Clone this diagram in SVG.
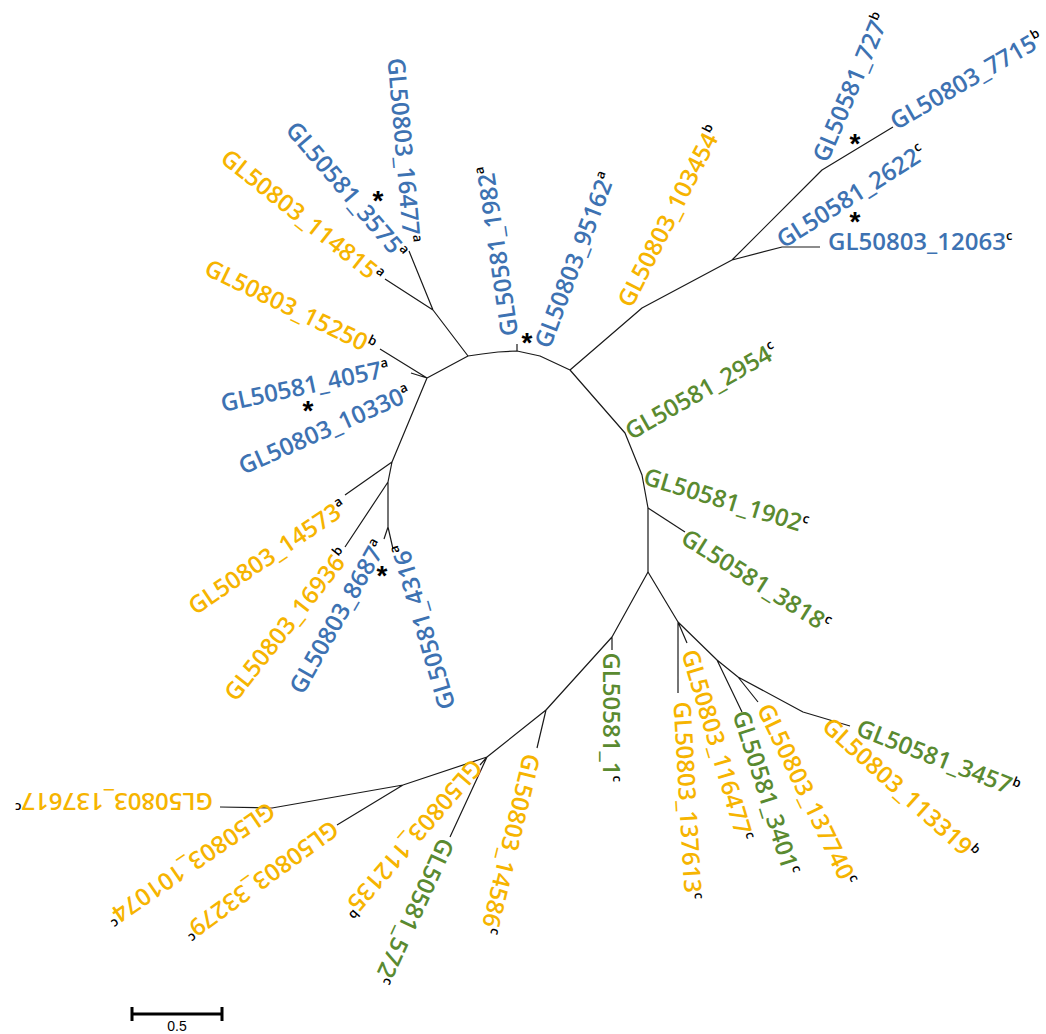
<svg xmlns="http://www.w3.org/2000/svg" width="1046" height="1034" viewBox="0 0 1046 1034">
<style>
.lb{font-family:"Open Sans","Liberation Sans",Arial,sans-serif;font-size:24px;font-weight:600}
.bl{fill:#3d72b2}
.or{fill:#f6b400}
.gr{fill:#5a8a30}
.sp{font-size:13px;fill:#000}
.ast{font-family:"Liberation Sans",Arial,sans-serif;font-size:28px;font-weight:bold;fill:#000;text-anchor:middle}
.tree{fill:none;stroke:#1a1a1a;stroke-width:1.2;stroke-linejoin:round}
.bar{fill:none;stroke:#000;stroke-width:3}
</style>
<rect width="1046" height="1034" fill="#fff"/>
<g id="connectors" class="tree">
<path d="M392,462 L427,378 L468,356 L482,354 L498,352 L517,351 L540,356 L570,370 L625,433 L642,475 L648,508 L648,572"/>
<path d="M517,351 V344"/>
<path d="M468,356 L433,310 L385,279 M433,310 L409,251"/>
<path d="M427,378 L380,349 M427,378 L411,373"/>
<path d="M392,462 L345,495 M392,462 L388,482 L345,547 M388,482 L388,527 L384,539 M388,527 L393,549"/>
<path d="M570,370 L642,308 L732,260 L822,170 L893,127 M732,260 L782,247 L820,247"/>
<path d="M648,508 L685,532"/>
<path d="M648,572 L612,637 L612,650 M612,637 L546,710 L537,748 M546,710 L487,757 L450,837 M487,757 L403,785 L337,825 M403,785 L272,808 L220,807 M487,757 L480,765"/>
<path d="M648,572 L678,622 L678,693 M678,622 L687,643 M678,622 L717,660 L742,712 M717,660 L738,677 L758,702 M738,677 L803,712 L850,726"/>
</g>
<g id="n16477"><text class="lb bl" transform="translate(396,58) rotate(85)" y="8.6">GL50803_16477<tspan class="sp" dy="-10">a</tspan></text></g>
<g id="n3575"><text class="lb bl" transform="translate(291,125) rotate(49.5)" y="8.6">GL50581_3575<tspan class="sp" dy="-10">a</tspan></text></g>
<g id="n114815"><text class="lb or" transform="translate(224.4,154.2) rotate(38.5)" y="8.6">GL50803_114815<tspan class="sp" dy="-10">a</tspan></text></g>
<g id="n15250"><text class="lb or" transform="translate(206.6,265.9) rotate(26)" y="8.6">GL50803_15250<tspan class="sp" dy="-10">b</tspan></text></g>
<g id="n4057"><text class="lb bl" transform="translate(220.9,403.6) rotate(-12)" y="8.6">GL50581_4057<tspan class="sp" dy="-10">a</tspan></text></g>
<g id="n10330"><text class="lb bl" transform="translate(239.8,467.1) rotate(-24)" y="8.6">GL50803_10330<tspan class="sp" dy="-10">a</tspan></text></g>
<g id="n14573"><text class="lb or" transform="translate(190.6,608.5) rotate(-34)" y="8.6">GL50803_14573<tspan class="sp" dy="-10">a</tspan></text></g>
<g id="n16936"><text class="lb or" transform="translate(229.2,697.3) rotate(-51.7)" y="8.6">GL50803_16936<tspan class="sp" dy="-10">b</tspan></text></g>
<g id="n8687"><text class="lb bl" transform="translate(295.4,691.4) rotate(-60.6)" y="8.6">GL50803_8687<tspan class="sp" dy="-10">a</tspan></text></g>
<g id="n4316"><text class="lb bl" transform="translate(447.6,708.9) rotate(-106.5)" y="8.6">GL50581_4316<tspan class="sp" dy="-10">a</tspan></text></g>
<g id="n1982"><text class="lb bl" transform="translate(509.7,335.9) rotate(-98.4)" y="8.6">GL50581_1982<tspan class="sp" dy="-10">a</tspan></text></g>
<g id="n95162"><text class="lb bl" transform="translate(541.7,346.7) rotate(-69.3)" y="8.6">GL50803_95162<tspan class="sp" dy="-10">a</tspan></text></g>
<g id="n103454"><text class="lb or" transform="translate(624.1,305) rotate(-63)" y="8.6">GL50803_103454<tspan class="sp" dy="-10">b</tspan></text></g>
<g id="n727"><text class="lb bl" transform="translate(819.7,160.3) rotate(-67)" y="8.6">GL50581_727<tspan class="sp" dy="-10">b</tspan></text></g>
<g id="n7715"><text class="lb bl" transform="translate(892,123) rotate(-30)" y="8.6">GL50803_7715<tspan class="sp" dy="-10">b</tspan></text></g>
<g id="n2622"><text class="lb bl" transform="translate(778.8,241.7) rotate(-32.4)" y="8.6">GL50581_2622<tspan class="sp" dy="-10">c</tspan></text></g>
<g id="n12063"><text class="lb bl" transform="translate(828,241)" y="8.6">GL50803_12063<tspan class="sp" dy="-10">c</tspan></text></g>
<g id="n2954"><text class="lb gr" transform="translate(626.9,432.9) rotate(-29.6)" y="8.6">GL50581_2954<tspan class="sp" dy="-10">c</tspan></text></g>
<g id="n1902"><text class="lb gr" transform="translate(644.4,475.6) rotate(16.9)" y="8.6">GL50581_1902<tspan class="sp" dy="-10">c</tspan></text></g>
<g id="n3818"><text class="lb gr" transform="translate(683.8,535) rotate(32.2)" y="8.6">GL50581_3818<tspan class="sp" dy="-10">c</tspan></text></g>
<g id="n3457"><text class="lb gr" transform="translate(858,726.6) rotate(21.3)" y="8.6">GL50581_3457<tspan class="sp" dy="-10">b</tspan></text></g>
<g id="n113319"><text class="lb or" transform="translate(826.4,722.1) rotate(42)" y="8.6">GL50803_113319<tspan class="sp" dy="-10">b</tspan></text></g>
<g id="n137740"><text class="lb or" transform="translate(764.3,704.9) rotate(64.3)" y="8.6">GL50803_137740<tspan class="sp" dy="-10">c</tspan></text></g>
<g id="n3401"><text class="lb gr" transform="translate(740.5,711.1) rotate(72.3)" y="8.6">GL50581_3401<tspan class="sp" dy="-10">c</tspan></text></g>
<g id="n116477"><text class="lb or" transform="translate(689.4,650) rotate(73.5)" y="8.6">GL50803_116477<tspan class="sp" dy="-10">c</tspan></text></g>
<g id="n137613"><text class="lb or" transform="translate(682,701.5) rotate(86.7)" y="8.6">GL50803_137613<tspan class="sp" dy="-10">c</tspan></text></g>
<g id="n1"><text class="lb gr" transform="translate(611.7,652.4) rotate(90)" y="8.6">GL50581_1<tspan class="sp" dy="-10">c</tspan></text></g>
<g id="n14586"><text class="lb or" transform="translate(532.2,754.3) rotate(103.6)" y="8.6">GL50803_14586<tspan class="sp" dy="-10">c</tspan></text></g>
<g id="n572"><text class="lb gr" transform="translate(447.2,839.8) rotate(114.7)" y="8.6">GL50581_572<tspan class="sp" dy="-10">c</tspan></text></g>
<g id="n112135"><text class="lb or" transform="translate(477.8,763) rotate(130.9)" y="8.6">GL50803_112135<tspan class="sp" dy="-10">b</tspan></text></g>
<g id="n33279"><text class="lb or" transform="translate(335.8,826.2) rotate(144)" y="8.6">GL50803_33279<tspan class="sp" dy="-10">c</tspan></text></g>
<g id="n101074"><text class="lb or" transform="translate(272.7,808) rotate(145.5)" y="8.6">GL50803_101074<tspan class="sp" dy="-10">c</tspan></text></g>
<g id="n137617"><text class="lb or" transform="translate(213,802) rotate(180)" y="8.6">GL50803_137617<tspan class="sp" dy="-10">c</tspan></text></g>
<g id="asterisks">
<text class="ast" x="378" y="210">*</text>
<text class="ast" x="527" y="352">*</text>
<text class="ast" x="308" y="420">*</text>
<text class="ast" x="382" y="585">*</text>
<text class="ast" x="855" y="153">*</text>
<text class="ast" x="855" y="231">*</text>
</g>
<g id="scalebar">
<path class="bar" d="M132,1014 H222 M132,1007 V1021 M222,1007 V1021"/>
<text x="177" y="1031" font-family="Liberation Sans, Arial, sans-serif" font-size="14" text-anchor="middle" fill="#000">0.5</text>
</g>
</svg>
